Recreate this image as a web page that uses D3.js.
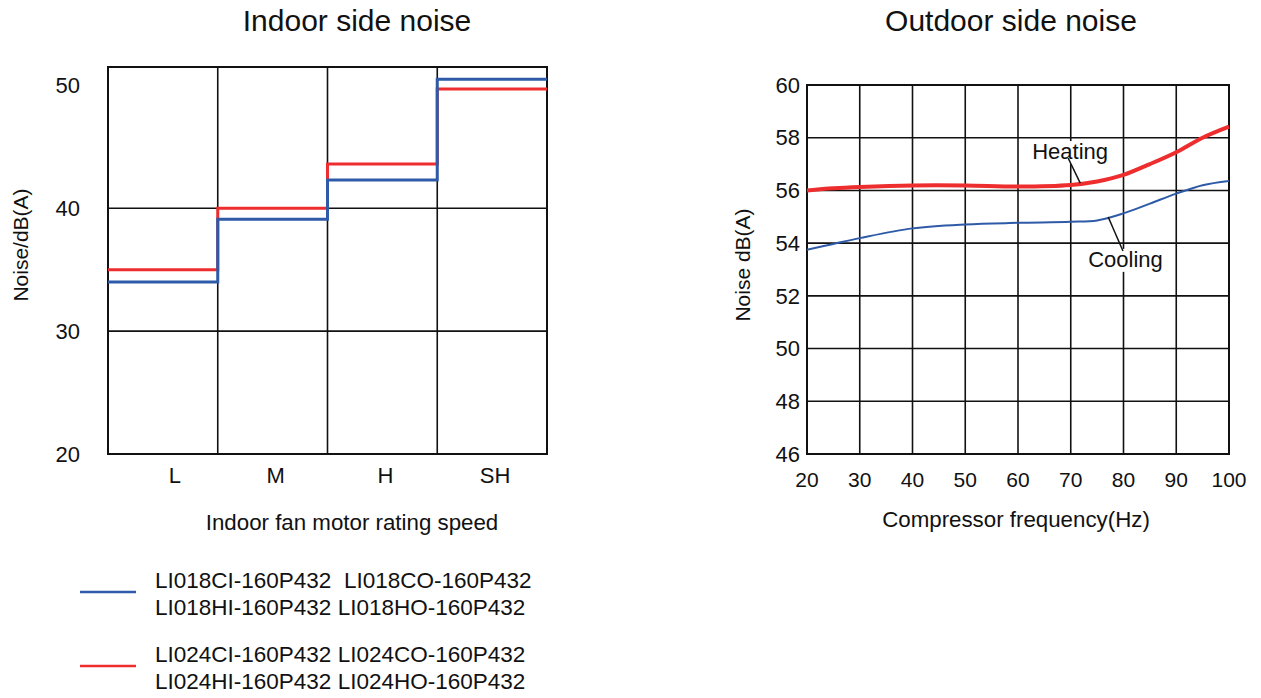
<!DOCTYPE html>
<html>
<head>
<meta charset="utf-8">
<script src="https://cdn.jsdelivr.net/npm/d3@7"></script>
<style>
  body { margin: 0; background: #fff; }
  text { font-family: "Liberation Sans", Arial, sans-serif; fill: #111; }
</style>
</head>
<body>
<svg id="chart" width="1261" height="698"></svg>
<script>
// indoor side noise, per fan speed
const speeds = ["L", "M", "H", "SH"];
const indoor018 = [34.0, 39.1, 42.3, 50.5];
const indoor024 = [35.0, 40.0, 43.6, 49.7];
const indoorTicks = [20, 30, 40, 50];

// outdoor side noise vs compressor frequency
const freqs = [20, 25, 30, 40, 50, 60, 70, 75, 80, 85, 90, 95, 100];
const heating = [56.0, 56.08, 56.13, 56.19, 56.19, 56.15, 56.21, 56.34, 56.59, 57.0, 57.45, 58.0, 58.42];
const cooling = [53.75, 53.97, 54.19, 54.56, 54.71, 54.77, 54.81, 54.86, 55.13, 55.5, 55.88, 56.2, 56.36];
const freqTicks = [20, 30, 40, 50, 60, 70, 80, 90, 100];
const outdoorTicks = [46, 48, 50, 52, 54, 56, 58, 60];

// annotation labels (text start, leader from -> to), in data units
const notes = [
  {label: "Heating", tx: 62.7, ty: 57.19, x1: 69.5, y1: 57.23, x2: 71.8, y2: 56.28},
  {label: "Cooling", tx: 73.3, ty: 53.1, x1: 77.1, y1: 54.99, x2: 79.9, y2: 53.7}
];

const legendRows = [
  {color: "#2e5aa8", lines: ["LI018CI-160P432\u00a0\u00a0LI018CO-160P432", "LI018HI-160P432 LI018HO-160P432"]},
  {color: "#ee2e2e", lines: ["LI024CI-160P432 LI024CO-160P432", "LI024HI-160P432 LI024HO-160P432"]}
];

const blue = "#2e5aa8";
const red = "#ee2e2e";

const svg = d3.select("#chart");

// ---------- Indoor chart ----------
const L = {left: 108, right: 547, top: 67, bottom: 454};
const xBand = d3.scaleBand().domain(speeds).range([L.left, L.right]);
const yIn = d3.scaleLinear().domain([20, 51.5]).range([L.bottom, L.top]);

const gIn = svg.append("g").attr("class", "indoor");

svg.append("text")
  .attr("x", 357).attr("y", 31)
  .attr("text-anchor", "middle")
  .style("font-size", "30px")
  .text("Indoor side noise");

// grid
gIn.selectAll("line.hgrid")
  .data([30, 40])
  .enter().append("line")
  .attr("x1", L.left).attr("x2", L.right)
  .attr("y1", d => yIn(d)).attr("y2", d => yIn(d))
  .style("stroke", "#111").style("stroke-width", 1.6);

gIn.selectAll("line.vgrid")
  .data(speeds.slice(1))
  .enter().append("line")
  .attr("x1", d => xBand(d)).attr("x2", d => xBand(d))
  .attr("y1", L.top).attr("y2", L.bottom)
  .style("stroke", "#111").style("stroke-width", 1.6);

gIn.append("rect")
  .attr("x", L.left).attr("y", L.top)
  .attr("width", L.right - L.left).attr("height", L.bottom - L.top)
  .style("fill", "none").style("stroke", "#111").style("stroke-width", 2);

// y ticks
gIn.selectAll("text.ytick")
  .data(indoorTicks)
  .enter().append("text")
  .attr("x", 80).attr("y", d => yIn(d))
  .attr("dy", "0.35em")
  .attr("text-anchor", "end")
  .style("font-size", "22px")
  .text(d => d);

// x ticks
gIn.selectAll("text.xtick")
  .data(speeds)
  .enter().append("text")
  .attr("x", d => xBand(d) + xBand.bandwidth() / 2 + (d === "L" ? 12 : 3))
  .attr("y", 483)
  .attr("text-anchor", "middle")
  .style("font-size", "22px")
  .text(d => d);

gIn.append("text")
  .attr("x", 352).attr("y", 530)
  .attr("text-anchor", "middle")
  .style("font-size", "22.3px")
  .text("Indoor fan motor rating speed");

gIn.append("text")
  .attr("transform", "translate(28,245) rotate(-90)")
  .attr("text-anchor", "middle")
  .style("font-size", "21px")
  .text("Noise/dB(A)");

// step lines
const stepLine = d3.line()
  .x(d => d[0]).y(d => yIn(d[1]))
  .curve(d3.curveStepAfter);

function stepPoints(vals){
  const pts = speeds.map((s, i) => [xBand(s), vals[i]]);
  pts.push([L.right, vals[vals.length - 1]]);
  return pts;
}

[[indoor024, red], [indoor018, blue]].forEach(([vals, col]) => {
  gIn.append("path")
    .attr("d", stepLine(stepPoints(vals)))
    .style("fill", "none")
    .style("stroke", col)
    .style("stroke-width", 3);
});

// legend
const leg = svg.append("g").attr("class", "legend");
legendRows.forEach((row, i) => {
  const y0 = 592 + i * 74;
  leg.append("line")
    .attr("x1", 80).attr("x2", 136)
    .attr("y1", y0).attr("y2", y0)
    .style("stroke", row.color).style("stroke-width", 2.5);
  row.lines.forEach((t, j) => {
    leg.append("text")
      .attr("x", 155).attr("y", y0 - 4 + j * 27)
      .style("font-size", "22.5px")
      .text(t);
  });
});

// ---------- Outdoor chart ----------
const R = {left: 807, right: 1229, top: 85, bottom: 454};
const xOut = d3.scaleLinear().domain([20, 100]).range([R.left, R.right]);
const yOut = d3.scaleLinear().domain([46, 60]).range([R.bottom, R.top]);

const gOut = svg.append("g").attr("class", "outdoor");

svg.append("text")
  .attr("x", 1011).attr("y", 31)
  .attr("text-anchor", "middle")
  .style("font-size", "30px")
  .text("Outdoor side noise");

gOut.selectAll("line.hgrid")
  .data(outdoorTicks)
  .enter().append("line")
  .attr("x1", R.left).attr("x2", R.right)
  .attr("y1", d => yOut(d)).attr("y2", d => yOut(d))
  .style("stroke", "#111").style("stroke-width", 1.6);

gOut.selectAll("line.vgrid")
  .data(freqTicks)
  .enter().append("line")
  .attr("x1", d => xOut(d)).attr("x2", d => xOut(d))
  .attr("y1", R.top).attr("y2", R.bottom)
  .style("stroke", "#111").style("stroke-width", 1.6);

gOut.append("rect")
  .attr("x", R.left).attr("y", R.top)
  .attr("width", R.right - R.left).attr("height", R.bottom - R.top)
  .style("fill", "none").style("stroke", "#111").style("stroke-width", 2);

gOut.selectAll("text.ytick")
  .data(outdoorTicks)
  .enter().append("text")
  .attr("x", R.left - 7).attr("y", d => yOut(d))
  .attr("dy", "0.35em")
  .attr("text-anchor", "end")
  .style("font-size", "22px")
  .text(d => d);

gOut.selectAll("text.xtick")
  .data(freqTicks)
  .enter().append("text")
  .attr("x", d => xOut(d)).attr("y", 487)
  .attr("text-anchor", "middle")
  .style("font-size", "21px")
  .text(d => d);

gOut.append("text")
  .attr("x", 1016).attr("y", 527)
  .attr("text-anchor", "middle")
  .style("font-size", "22.3px")
  .text("Compressor frequency(Hz)");

gOut.append("text")
  .attr("transform", "translate(750,265) rotate(-90)")
  .attr("text-anchor", "middle")
  .style("font-size", "21px")
  .text("Noise dB(A)");

const curve = d3.line()
  .x((d, i) => xOut(freqs[i])).y(d => yOut(d))
  .curve(d3.curveCatmullRom.alpha(0.5));

gOut.append("path")
  .attr("d", curve(cooling))
  .style("fill", "none").style("stroke", blue).style("stroke-width", 2);

gOut.append("path")
  .attr("d", curve(heating))
  .style("fill", "none").style("stroke", red).style("stroke-width", 4);

// annotations with white backing
notes.forEach(n => {
  const t = gOut.append("text")
    .attr("x", xOut(n.tx)).attr("y", yOut(n.ty))
    .style("font-size", "22px")
    .text(n.label);
  const bb = t.node().getBBox();
  gOut.insert("rect", "text")
    .attr("x", bb.x - 1).attr("y", bb.y + 2)
    .attr("width", bb.width + 2).attr("height", bb.height - 2)
    .style("fill", "#fff");
  t.raise();
  gOut.append("line")
    .attr("x1", xOut(n.x1)).attr("y1", yOut(n.y1))
    .attr("x2", xOut(n.x2)).attr("y2", yOut(n.y2))
    .style("stroke", "#111").style("stroke-width", 1.5);
});
</script>
</body>
</html>
